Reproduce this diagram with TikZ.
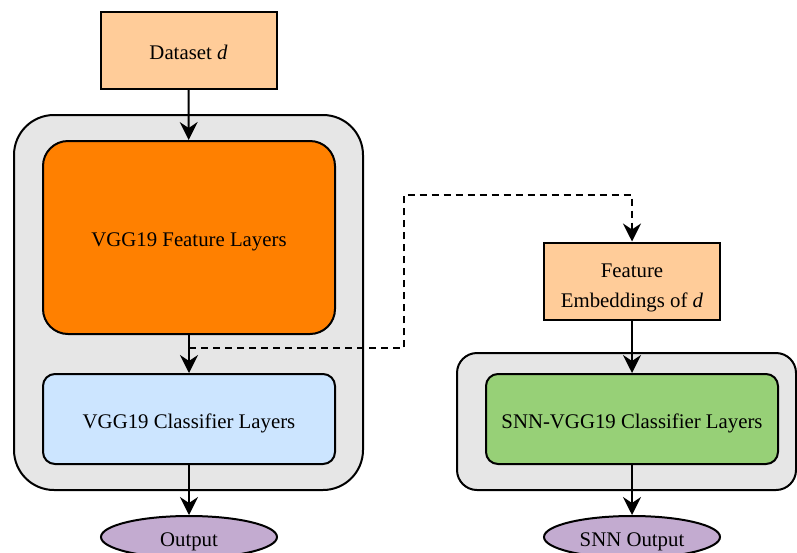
\documentclass[tikz,border=0pt]{standalone}
\usepackage{fontspec}
\setmainfont{Liberation Serif}
\usepackage{xcolor}
\usepackage{tikz}
\usetikzlibrary{arrows.meta,shapes,calc}
\definecolor{peach}{HTML}{FFCC99}
\definecolor{panelgrey}{HTML}{E6E6E6}
\definecolor{vggorange}{HTML}{FF8000}
\definecolor{vggblue}{HTML}{CCE5FF}
\definecolor{snngreen}{HTML}{97D077}
\definecolor{lilac}{HTML}{C3ABD0}
\tikzstyle{block}=[rectangle,draw=black,line width=1pt,align=center,inner sep=2pt]
\tikzstyle{oneline}=[text height=10pt,text depth=1pt]
\tikzstyle{twoline}=[text height=26pt,text depth=0pt]
\tikzstyle{inputbox}=[block,fill=peach,minimum width=88pt,minimum height=38.5pt]
\tikzstyle{layerbox}=[block,oneline,rounded corners=6pt,minimum width=146pt,minimum height=45pt]
\tikzstyle{panel}=[block,fill=panelgrey]
\tikzstyle{outnode}=[ellipse,oneline,draw=black,line width=1pt,fill=lilac,minimum width=88pt,minimum height=21pt,inner sep=0pt]
\tikzstyle{edge}=[draw,line width=1pt,-{Stealth[length=9pt,width=9pt,inset=3pt]}]
\tikzstyle{dashededge}=[edge,dash pattern=on 3.5pt off 2.5pt]

\begin{document}
\begin{tikzpicture}[x=0.5pt,y=-0.5pt,every node/.style={font=\fontsize{10.4}{15}\selectfont}]

  \useasboundingbox (0,0) rectangle (797,552);

  % grey panels behind the layers
  \node[panel,rounded corners=20pt,minimum width=174.5pt,minimum height=187.5pt] (vggpanel) at (188.5,302.5) {};
  \node[panel,rounded corners=10pt,minimum width=169.5pt,minimum height=68.5pt] (snnpanel) at (626.5,421.5) {};

  \foreach \x/\y/\name/\label in {188.5/50.5/data/{Dataset \textit{d}}}
          \node[inputbox,oneline] (\name) at (\x,\y) {\label};
  \foreach \x/\y/\name/\label in {632/281/feat/{Feature\\Embeddings of \textit{d}}}
          \node[inputbox,twoline] (\name) at (\x,\y) {\label};

  \node[block,oneline,fill=vggorange,rounded corners=12.5pt,minimum width=146pt,minimum height=96.5pt] (feature) at (189,237.5) {VGG19 Feature Layers};

  \foreach \x/\y/\name/\label in {189/419/classifier/{VGG19 Classifier Layers}}
          \node[layerbox,fill=vggblue] (\name) at (\x,\y) {\label};

  \foreach \x/\y/\name/\label in {632/419/snnclassifier/{SNN-VGG19 Classifier Layers}}
          \node[layerbox,fill=snngreen] (\name) at (\x,\y) {\label};

  \foreach \x/\y/\name/\label in {189/537/out/{Output}, 632/537/snnout/{SNN Output}}
          \node[outnode] (\name) at (\x,\y) {\label};

  \foreach \source/ \dest in {data/feature, feature/classifier, classifier/out, feat/snnclassifier, snnclassifier/snnout}
         \path[edge] (\source) -- (\dest);

  % embeddings taken between feature and classifier layers
  \coordinate (tap) at ($(feature.south)!0.35!(classifier.north)$);
  \coordinate (bend) at (404,195);
  \path[dashededge] (tap) -| (bend) -| (feat.north);

\end{tikzpicture}
\end{document}
